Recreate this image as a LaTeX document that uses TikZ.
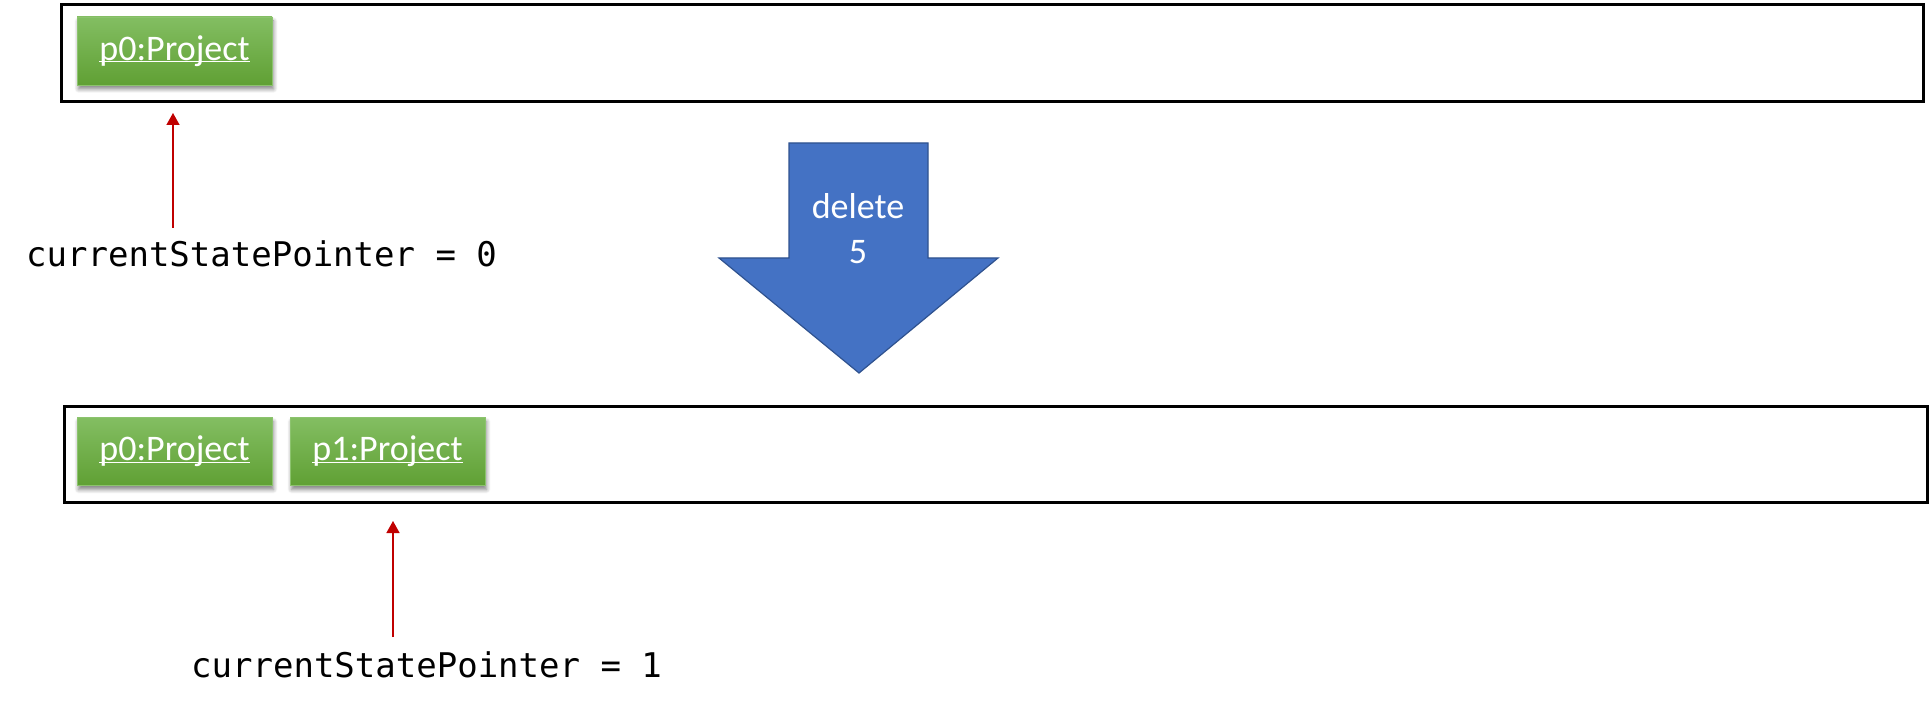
\documentclass[tikz,border=0pt]{standalone}
\usepackage{fontspec}
\setmainfont{Carlito}
\newfontfamily\monofont{DejaVu Sans Mono}
\usetikzlibrary{arrows.meta,shadows.blur}
\definecolor{grtop}{RGB}{131,190,98}
\definecolor{grbot}{RGB}{96,160,52}
\definecolor{grborder}{RGB}{140,195,110}
\definecolor{arrowblue}{HTML}{4472C4}
\definecolor{arrowedge}{HTML}{2F528F}
\definecolor{ptrred}{HTML}{C00000}
\newcommand{\projlabel}[1]{\underline{\smash{#1}}\vphantom{Pj}}
\begin{document}
\begin{tikzpicture}[x=1pt,y=-1pt,
  frame/.style={draw=black,line width=2.6pt,inner sep=0pt,anchor=north west},
  proj/.style={draw=grborder, line width=0.6pt, top color=grtop, bottom color=grbot,
    minimum width=195pt, minimum height=68pt, inner sep=0pt, text=white,
    font=\fontsize{36}{40}\selectfont,
    blur shadow={shadow xshift=1.5pt, shadow yshift=-4pt, shadow opacity=50, shadow blur steps=6, shadow blur radius=4pt}},
  ptr/.style={draw=ptrred, line width=1.5pt, -{Triangle[width=13pt,length=12pt]}},
  ptrtext/.style={font=\monofont\fontsize{34}{40}\selectfont, anchor=base west, inner sep=0pt},
  optext/.style={text=white, font=\fontsize{36}{44}\selectfont, anchor=base, inner sep=0pt},
]
\useasboundingbox (0,0) rectangle (1929,711);

% top state
\node[frame, minimum width=1862pt, minimum height=97pt] (state0) at (60,3) {};
\node[proj] (p0a) at (174.5,51) {\projlabel{p0:Project}};
\node[ptrtext] (cur0) at (26,267) {currentStatePointer = 0};
\coordinate (c0tail) at (173,228);
\coordinate (c0tip) at (173,113);
\draw[ptr] (c0tail) -- (c0tip);

% operation arrow
\draw[fill=arrowblue, draw=arrowedge, line width=1.2pt]
  (789,143) -- (928,143) -- (928,258) -- (998,258) -- (859,373) -- (719,258) -- (789,258) -- cycle;
\node[optext] (op1) at (858,219) {delete};
\node[optext] (op2) at (858,263) {5};

% bottom state
\node[frame, minimum width=1863pt, minimum height=96pt] (state1) at (63,405) {};
\node[proj] (p0b) at (174.5,451.5) {\projlabel{p0:Project}};
\node[proj] (p1b) at (387.5,451.5) {\projlabel{p1:Project}};
\node[ptrtext] (cur1) at (191,677) {currentStatePointer = 1};
\coordinate (c1tail) at (393,637);
\coordinate (c1tip) at (393,521);
\draw[ptr] (c1tail) -- (c1tip);
\end{tikzpicture}
\end{document}
